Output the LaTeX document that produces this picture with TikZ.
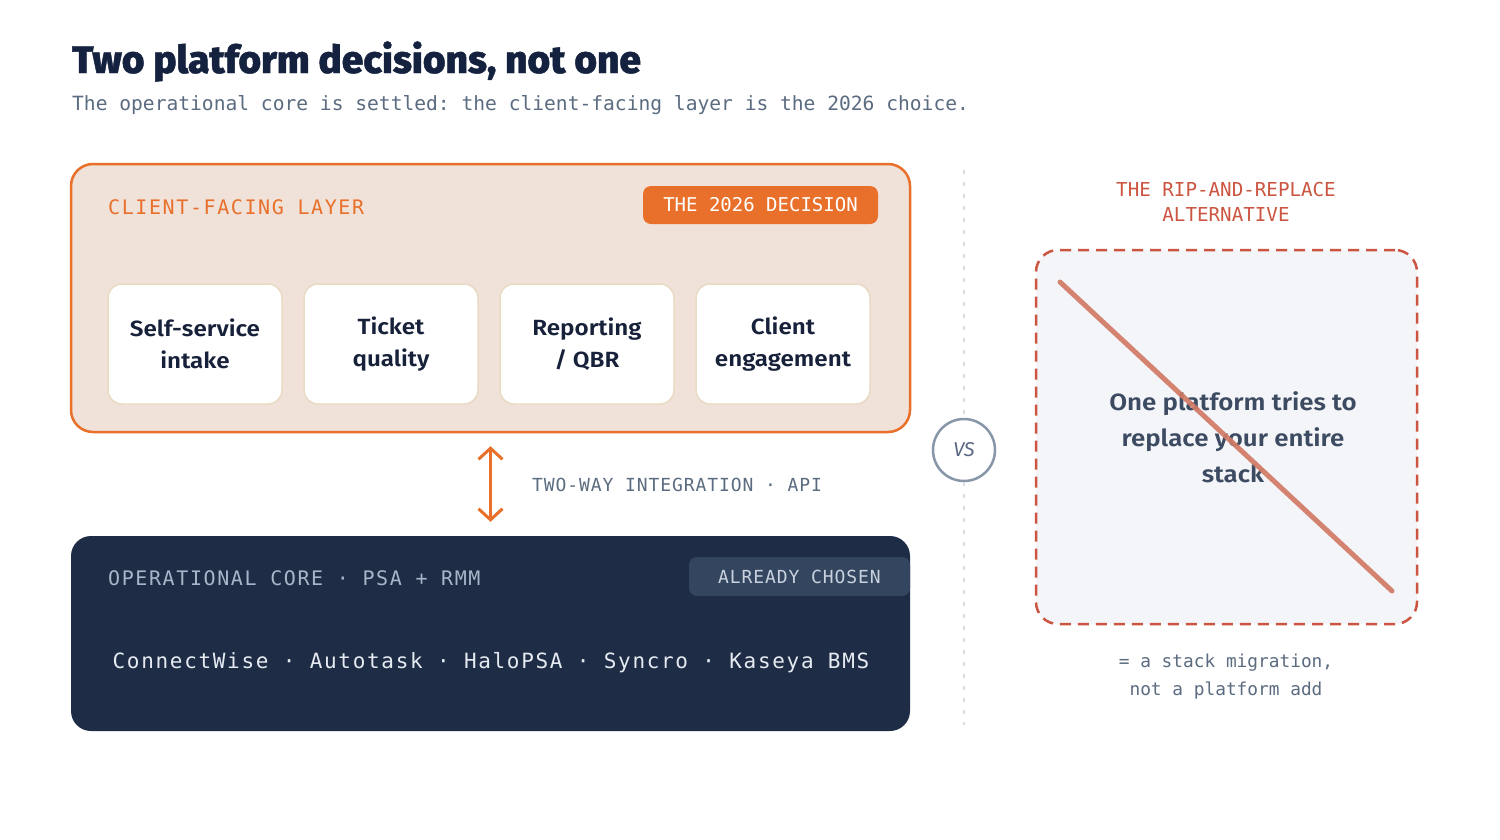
\documentclass[tikz,border=0pt]{standalone}
\usepackage{fontspec}
\setmainfont{Fira Sans}
\setmonofont{DejaVu Sans Mono}
\newfontfamily\headfont{Fira Sans ExtraBold}[FakeStretch=1.01,FakeBold=1.2]
\newfontfamily\cardfont{Fira Sans SemiBold}[FakeStretch=1.1]
\newfontfamily\capsmono{DejaVu Sans Mono}[LetterSpace=8]
\newfontfamily\tagmono{DejaVu Sans Mono}[LetterSpace=5]
\usepackage{tikz}
\usetikzlibrary{positioning,arrows.meta,calc}

\definecolor{navy}{HTML}{15223F}
\definecolor{slate}{HTML}{5B6B80}
\definecolor{accent}{HTML}{E8702A}
\definecolor{peach}{HTML}{F0E1D9}
\definecolor{cardline}{HTML}{EADBC4}
\definecolor{cardtext}{HTML}{17213A}
\definecolor{corefill}{HTML}{1E2C45}
\definecolor{corelabel}{HTML}{A9B5C8}
\definecolor{chosenfill}{HTML}{34465F}
\definecolor{chosentext}{HTML}{C9D2DE}
\definecolor{coreitems}{HTML}{E6EBF2}
\definecolor{divline}{HTML}{D9DDE3}
\definecolor{vsline}{HTML}{8896AA}
\definecolor{vstext}{HTML}{5A6881}
\definecolor{rust}{HTML}{CC5541}
\definecolor{altfill}{HTML}{F4F5F9}
\definecolor{strikeline}{HTML}{D27A65}
\definecolor{alttext}{HTML}{3D4B62}

\begin{document}
\begin{tikzpicture}[
x=1pt, y=-1pt,
clientbox/.style={
  draw=accent,
  line width=2.5pt,
  fill=peach,
  rounded corners=22pt,
  minimum width=839pt,
  minimum height=268pt,
  inner sep=0pt
  },
corebox/.style={
  fill=corefill,
  rounded corners=20pt,
  minimum width=839pt,
  minimum height=195pt,
  inner sep=0pt
  },
altbox/.style={
  draw=rust,
  line width=2.5pt,
  dash pattern=on 11pt off 7pt,
  fill=altfill,
  rounded corners=22pt,
  minimum width=381pt,
  minimum height=374pt,
  inner sep=0pt
  },
card/.style={
  draw=cardline,
  line width=1.5pt,
  fill=white,
  rounded corners=14pt,
  minimum width=174pt,
  minimum height=120pt,
  align=center,
  text=cardtext,
  font=\cardfont\fontsize{22}{32}\selectfont
  },
badge/.style={
  rounded corners=8pt,
  inner sep=0pt
  },
label/.style={
  anchor=base west,
  inner sep=0pt
  },
divider/.style={
  draw=divline,
  line width=2.5pt,
  dash pattern=on 4pt off 8pt
  },
apiarrow/.style={
  draw=accent,
  line width=3pt,
  {Straight Barb[length=11pt,width=24pt,line width=3pt]}-{Straight Barb[length=11pt,width=24pt,line width=3pt]}
  },
strike/.style={
  draw=strikeline,
  line width=5pt,
  line cap=round,
  draw opacity=0.92
  }
]
\fill[white] (0,0) rectangle (1500,839);
\useasboundingbox (0,0) rectangle (1500,839);

% heading
\node[label, text=navy, font=\headfont\fontsize{38.5}{40}\selectfont]
  (title) at (72,73) {Two platform decisions, not one};
\node[label, text=slate, font=\ttfamily\fontsize{19.6}{22}\selectfont]
  (subtitle) at (72,110) {The operational core is settled: the client-facing layer is the 2026 choice.};

% client-facing layer
\node[clientbox] (client) at (490.5,298) {};
\node[label, text=accent, font=\capsmono\fontsize{20}{24}\selectfont]
  (clientlbl) at (108,214) {CLIENT-FACING LAYER};
\node[badge, fill=accent, minimum width=235pt, minimum height=38pt,
  text=white, font=\ttfamily\fontsize{19}{22}\selectfont]
  (decision) at (760.5,205) {THE 2026 DECISION};

\foreach \i/\txt in {1/{Self-service\\intake},2/{Ticket\\quality},3/{Reporting\\/ QBR},4/{Client\\engagement}}
  \node[card] (card\i) at ({195+196*(\i-1)},344) {\txt};

% operational core
\node[corebox] (core) at (490.5,633.5) {};
\node[label, text=corelabel, font=\capsmono\fontsize{20}{24}\selectfont]
  (corelbl) at (108,585) {OPERATIONAL CORE · PSA + RMM};
\node[badge, fill=chosenfill, minimum width=221pt, minimum height=39pt,
  text=chosentext, font=\tagmono\fontsize{18}{22}\selectfont]
  (chosen) at (799.5,576.5) {ALREADY CHOSEN};
\node[anchor=base, inner sep=0pt, text=coreitems, font=\capsmono\fontsize{21}{24}\selectfont]
  (vendors) at (491,668) {ConnectWise · Autotask · HaloPSA · Syncro · Kaseya BMS};

% integration
\draw[apiarrow, shorten <=13pt, shorten >=14pt] (client.south) -- (core.north);
\node[label, text=slate, font=\tagmono\fontsize{18}{22}\selectfont]
  (api) at (532,491) {TWO-WAY INTEGRATION · API};

% versus
\coordinate (divtop) at (964,170);
\coordinate (divbot) at (964,725);
\node[circle, draw=vsline, line width=2.5pt, fill=white, minimum size=62pt,
  inner sep=0pt, text=vstext, font=\itshape\fontsize{20}{22}\selectfont]
  (vs) at (964,450) {VS};
\draw[divider] (divtop) -- (vs);
\draw[divider] (vs) -- (divbot);

% alternative
\node[align=center, inner sep=0pt, text=rust, font=\ttfamily\fontsize{19.2}{25}\selectfont]
  (altlbl) at (1226,202) {THE RIP-AND-REPLACE\\ALTERNATIVE};
\node[altbox] (alt) at (1226.5,437) {};
\node[align=center, inner sep=0pt, text=alttext, font=\cardfont\fontsize{23.5}{36}\selectfont]
  (altnote) at (1233,437.5) {One platform tries to\\replace your entire\\stack};
\coordinate (strikeA) at (1060,282);
\coordinate (strikeB) at (1392,591);
\draw[strike] (strikeA) -- (strikeB);
\node[align=center, inner sep=0pt, text=slate, font=\ttfamily\fontsize{17.8}{28}\selectfont]
  (altfoot) at (1226,676.5) {= a stack migration,\\not a platform add};

\end{tikzpicture}
\end{document}
